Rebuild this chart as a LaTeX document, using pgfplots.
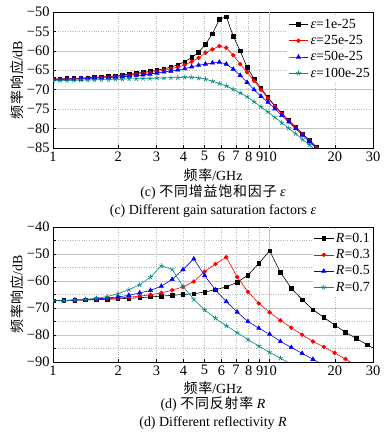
\documentclass[border=0pt]{standalone}
\usepackage{fontspec}
\setmainfont{Liberation Serif}
\newfontfamily\cjk[LetterSpace=6]{Noto Sans CJK SC}
\usepackage{pgfplots}
\usepackage{pgfplotstable}
\pgfplotsset{compat=1.18}
\definecolor{tealc}{RGB}{0,138,128}

\pgfplotstableread{
f a b c d
1.0000 -67.2 -67.3 -67.4 -67.6
1.0765 -67.2 -67.3 -67.4 -67.6
1.1588 -67.1 -67.2 -67.3 -67.6
1.2474 -67.1 -67.2 -67.3 -67.6
1.3428 -67.0 -67.1 -67.2 -67.5
1.4454 -66.9 -67.0 -67.1 -67.5
1.5560 -66.8 -66.9 -67.0 -67.5
1.6749 -66.7 -66.8 -67.0 -67.4
1.8030 -66.6 -66.7 -66.9 -67.4
1.9409 -66.4 -66.6 -66.8 -67.3
2.0893 -66.2 -66.4 -66.7 -67.3
2.2491 -66.0 -66.2 -66.5 -67.2
2.4210 -65.8 -66.0 -66.4 -67.2
2.6062 -65.5 -65.8 -66.2 -67.1
2.8054 -65.3 -65.6 -66.0 -67.1
3.0200 -65.0 -65.3 -65.7 -67.0
3.2509 -64.6 -65.0 -65.4 -67.0
3.4995 -64.2 -64.6 -65.2 -66.9
3.7670 -63.6 -64.2 -64.9 -66.9
4.0551 -62.8 -63.6 -64.6 -66.8
4.3652 -61.7 -62.8 -64.1 -66.8
4.6989 -60.4 -61.8 -63.7 -67.0
5.0582 -58.3 -60.5 -63.4 -67.3
5.4450 -55.6 -59.6 -63.1 -67.8
5.8614 -51.9 -58.8 -62.9 -68.4
6.3096 -51.2 -59.2 -63.4 -69.0
6.7920 -56.2 -61.1 -64.7 -69.9
7.3114 -60.0 -63.4 -66.3 -70.8
7.8705 -64.2 -65.5 -68.1 -71.8
8.4723 -67.2 -67.7 -70.0 -73.1
9.1201 -69.6 -70.0 -71.7 -74.4
9.8175 -72.0 -72.2 -73.2 -75.7
10.568 -74.1 -74.3 -74.9 -77.1
11.376 -76.1 -76.2 -76.6 -78.5
12.246 -77.9 -78.0 -78.3 -79.9
13.183 -79.6 -79.7 -80.0 -81.3
14.191 -81.3 -81.4 -81.7 -82.8
15.276 -83.0 -83.1 -83.4 -84.2
16.444 -84.7 -84.9 -85.1 -85.8
17.701 -86.5 -86.7 -86.9 nan
}\topdata

\pgfplotstableread{
f a b c d
1.0000 -67.3 -67.3 -67.3 -67.4
1.1220 -67.2 -67.2 -67.2 -67.3
1.2589 -67.1 -67.1 -67.0 -67.0
1.4125 -67.0 -67.0 -66.9 -66.8
1.5849 -66.9 -66.8 -66.6 -66.4
1.7783 -66.8 -66.6 -66.3 -65.8
1.9953 -66.6 -66.3 -65.9 -64.7
2.2387 -66.4 -66.0 -65.3 -63.2
2.5119 -66.2 -65.6 -64.4 -61.4
2.8184 -65.9 -65.1 -63.5 -58.6
3.1623 -65.6 -64.4 -61.9 -54.3
3.5481 -65.3 -63.4 -59.4 -55.7
3.9811 -65.0 -62.2 -55.8 -62.0
4.4668 -64.7 -60.2 -51.8 -66.8
5.0119 -64.1 -56.5 -58.0 -70.7
5.6234 -63.2 -53.7 -63.3 -73.8
6.3096 -62.2 -51.2 -67.6 -76.6
7.0795 -60.5 -58.5 -71.5 -79.1
7.9433 -57.8 -64.0 -75.0 -81.7
8.9125 -53.5 -68.3 -77.5 -84.1
10.000 -48.8 -71.6 -79.7 -86.4
11.220 -56.8 -74.6 -82.4 -88.6
12.589 -62.7 -77.3 -84.6 -90.8
14.125 -66.9 -79.9 -86.8 nan
15.849 -70.6 -82.4 -89.0 nan
17.783 -73.5 -84.4 -91.2 nan
19.953 -76.3 -86.6 nan nan
22.387 -79.0 -88.9 nan nan
25.119 -81.3 -91.2 nan nan
28.184 -83.6 nan nan nan
31.623 -85.8 nan nan nan
}\botdata

\begin{document}
\begin{tikzpicture}
\path[use as bounding box] (0,0) rectangle (388bp,438bp);
\begin{axis}[at={(53bp,290bp)}, anchor=south west,
  scale only axis, width=320bp, height=136bp,
  xmode=log, xmin=1, xmax=30,
  xtick={1,2,3,4,5,6,7,8,9,10,20,30},
  xticklabels={1,2,3,4,5,6,7,8,9,10,20,30},
  extra x ticks={10}, extra x tick labels={},
  extra x tick style={xmajorgrids=true, major grid style={gray!45, solid, line width=0.6bp}},
  ymin=-85, ymax=-50,
  ytick={-85,-80,-75,-70,-65,-60,-55,-50},
  yticklabels={−85,−80,−75,−70,−65,−60,−55,−50},
  extra y ticks={-80,-70,-60}, extra y tick labels={},
  extra y tick style={ymajorgrids=true, major grid style={gray!45, solid, line width=0.6bp}},
  xmajorgrids=true, ymajorgrids=true,
  major grid style={gray!55, dotted, line width=0.6bp},
  tick align=inside, tick pos=left,
  major tick length=3bp,
  tick style={black, line width=0.6bp},
  axis line style={line width=0.9bp},
  tick label style={font=\fontsize{14.5}{16}\selectfont},
  label style={font=\fontsize{14}{16}\selectfont},
  legend cell align=left,
  legend style={font=\fontsize{14}{16}\selectfont, draw=none, fill=white, inner sep=1bp, row sep=1.5bp, at={(1,1)}, anchor=north east, yshift=-4bp},
  legend image code/.code={\draw[mark repeat=2,mark phase=2] plot coordinates {(0cm,0cm) (0.35cm,0cm) (0.7cm,0cm)};},
  clip marker paths=true,
  ylabel={{\cjk 频率响应}/dB},
  xlabel={{\cjk 频率}/GHz},
  ylabel style={at={(axis description cs:-0.1125,0.5)}, anchor=center},
  xlabel style={at={(axis description cs:0.5,-0.1985)}, anchor=center},
]
\addplot[black, line width=0.6bp, mark=square*, mark size=1.8bp] table[x=f,y=a] {\topdata};
\addlegendentry{\textit{ε}=1e-25}
\addplot[red, line width=0.6bp, mark=*, mark size=1.9bp] table[x=f,y=b] {\topdata};
\addlegendentry{\textit{ε}=25e-25}
\addplot[blue, line width=0.6bp, mark=triangle*, mark size=2.4bp] table[x=f,y=c] {\topdata};
\addlegendentry{\textit{ε}=50e-25}
\addplot[tealc, line width=0.6bp, mark=star, mark size=2.6bp] table[x=f,y=d] {\topdata};
\addlegendentry{\textit{ε}=100e-25}
\end{axis}

\begin{axis}[at={(53bp,76bp)}, anchor=south west,
  scale only axis, width=320bp, height=135bp,
  xmode=log, xmin=1, xmax=30,
  xtick={1,2,3,4,5,6,7,8,9,10,20,30},
  xticklabels={1,2,3,4,5,6,7,8,9,10,20,30},
  extra x ticks={10}, extra x tick labels={},
  extra x tick style={xmajorgrids=true, major grid style={gray!45, solid, line width=0.6bp}},
  ymin=-90, ymax=-40,
  ytick={-90,-85,-80,-75,-70,-65,-60,-55,-50,-45,-40},
  yticklabels={−90,,−80,,−70,,−60,,−50,,−40},
  extra y ticks={-80,-70,-60,-50}, extra y tick labels={},
  extra y tick style={ymajorgrids=true, major grid style={gray!45, solid, line width=0.6bp}},
  xmajorgrids=true, ymajorgrids=true,
  major grid style={gray!55, dotted, line width=0.6bp},
  tick align=inside, tick pos=left,
  major tick length=3bp,
  tick style={black, line width=0.6bp},
  axis line style={line width=0.9bp},
  tick label style={font=\fontsize{14.5}{16}\selectfont},
  label style={font=\fontsize{14}{16}\selectfont},
  legend cell align=left,
  legend style={font=\fontsize{14}{16}\selectfont, draw=none, fill=white, inner sep=1bp, row sep=1.5bp, at={(1,1)}, anchor=north east, yshift=-3bp},
  legend image code/.code={\draw[mark repeat=2,mark phase=2] plot coordinates {(0cm,0cm) (0.35cm,0cm) (0.7cm,0cm)};},
  clip marker paths=true,
  ylabel={{\cjk 频率响应}/dB},
  xlabel={{\cjk 频率}/GHz},
  ylabel style={at={(axis description cs:-0.1125,0.5)}, anchor=center},
  xlabel style={at={(axis description cs:0.5,-0.195)}, anchor=center},
]
\addplot[black, line width=0.6bp, mark=square*, mark size=1.8bp] table[x=f,y=a] {\botdata};
\addlegendentry{\textit{R}=0.1}
\addplot[red, line width=0.6bp, mark=*, mark size=1.9bp] table[x=f,y=b] {\botdata};
\addlegendentry{\textit{R}=0.3}
\addplot[blue, line width=0.6bp, mark=triangle*, mark size=2.4bp] table[x=f,y=c] {\botdata};
\addlegendentry{\textit{R}=0.5}
\addplot[tealc, line width=0.6bp, mark=star, mark size=2.6bp] table[x=f,y=d] {\botdata};
\addlegendentry{\textit{R}=0.7}
\end{axis}

\node[font=\fontsize{14}{16}\selectfont] at (213bp,246bp) {(c) {\cjk 不同增益饱和因子} \textit{ε}};
\node[font=\fontsize{14}{16}\selectfont] at (213bp,227bp) {(c) Different gain saturation factors \textit{ε}};
\node[font=\fontsize{14}{16}\selectfont] at (213bp,34bp) {(d) {\cjk 不同反射率} \textit{R}};
\node[font=\fontsize{14}{16}\selectfont] at (213bp,15bp) {(d) Different reflectivity \textit{R}};
\end{tikzpicture}
\end{document}
